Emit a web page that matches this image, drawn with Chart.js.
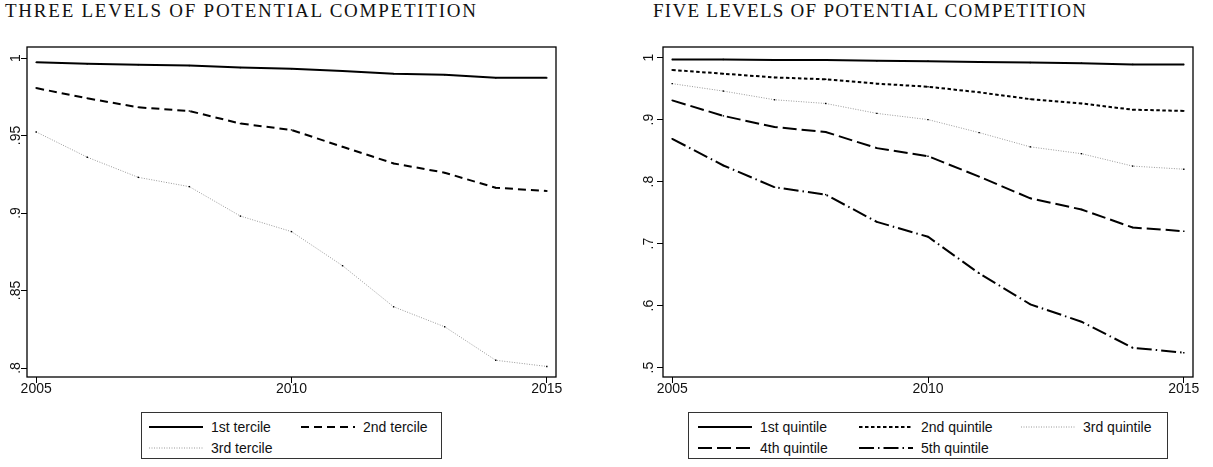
<!DOCTYPE html>
<html>
<head>
<meta charset="utf-8">
<script src="https://cdn.jsdelivr.net/npm/chart.js@4.4.1/dist/chart.umd.min.js"></script>
<style>
  body { margin: 0; background: #fff; }
  #page { position: relative; width: 1213px; height: 467px; background: #fff; overflow: hidden; }
  .title { position: absolute; top: 0px; font-family: "Liberation Serif", serif; font-size: 19px; white-space: nowrap; color: #111; }
  canvas { position: absolute; top: 0; }
  .legend { position: absolute; top: 412px; height: 47px; border: 1px solid #333; box-sizing: border-box;
            font-family: "Liberation Sans", Arial, sans-serif; font-size: 14px; color: #111; }
  .item { position: absolute; display: flex; align-items: center; height: 20px; white-space: nowrap; }
  .item svg { margin-right: 8px; }
</style>
</head>
<body>
<div id="page">
  <div class="title" id="titleLeft">THREE LEVELS OF POTENTIAL COMPETITION</div>
  <div class="title" id="titleRight">FIVE LEVELS OF POTENTIAL COMPETITION</div>
  <canvas id="leftChart" width="600" height="400" style="left:0"></canvas>
  <canvas id="rightChart" width="613" height="400" style="left:600px"></canvas>
  <div class="legend" id="legendLeft" style="left:141px; width:301px"></div>
  <div class="legend" id="legendRight" style="left:688px; width:480px"></div>
</div>
<script>
// data
const years = [2005, 2006, 2007, 2008, 2009, 2010, 2011, 2012, 2013, 2014, 2015];
const xTicks = [2005, 2010, 2015];
const xTickLabels = ['2005', '2010', '2015'];

const tercileNames = ['1st tercile', '2nd tercile', '3rd tercile'];
const tercile1 = [0.9972, 0.9963, 0.9957, 0.9951, 0.9938, 0.9931, 0.9916, 0.9899, 0.9892, 0.9873, 0.9872];
const tercile2 = [0.9806, 0.9740, 0.9682, 0.9658, 0.9577, 0.9536, 0.9427, 0.9320, 0.9260, 0.9163, 0.9142];
const tercile3 = [0.9523, 0.9360, 0.9230, 0.9170, 0.8980, 0.8880, 0.8660, 0.8395, 0.8266, 0.8050, 0.8010];
const tercileTicks = [0.8, 0.85, 0.9, 0.95, 1];
const tercileTickLabels = ['.8', '.85', '.9', '.95', '1'];

const quintileNames = ['1st quintile', '2nd quintile', '3rd quintile', '4th quintile', '5th quintile'];
const quintile1 = [0.997, 0.997, 0.996, 0.996, 0.995, 0.994, 0.993, 0.992, 0.991, 0.989, 0.989];
const quintile2 = [0.980, 0.974, 0.968, 0.965, 0.958, 0.953, 0.944, 0.933, 0.926, 0.916, 0.914];
const quintile3 = [0.958, 0.946, 0.932, 0.926, 0.910, 0.900, 0.879, 0.856, 0.845, 0.825, 0.820];
const quintile4 = [0.931, 0.906, 0.888, 0.880, 0.854, 0.841, 0.808, 0.773, 0.755, 0.726, 0.720];
const quintile5 = [0.869, 0.826, 0.791, 0.779, 0.735, 0.711, 0.652, 0.602, 0.574, 0.532, 0.524];
const quintileTicks = [0.5, 0.6, 0.7, 0.8, 0.9, 1];
const quintileTickLabels = ['.5', '.6', '.7', '.8', '.9', '1'];

// line looks (Stata-like patterns)
const solid = { color: '#000', width: 2, dash: [] };
const tercileStyles = [solid, { color: '#000', width: 2, dash: [8, 5] }, { color: '#999', width: 1, dash: [1, 1.5] }];
const quintileStyles = [
    solid,
    { color: '#000', width: 2, dash: [3.5, 2.5] },
    { color: '#999', width: 1, dash: [1, 1.5] },
    { color: '#000', width: 2, dash: [14, 5] },
    { color: '#000', width: 2, dash: [15, 4, 1.5, 4] },
];

const frame = {
    id: 'frame',
    afterDatasetsDraw(chart) {
        const { ctx, chartArea: a } = chart;
        ctx.save();
        ctx.strokeStyle = '#000';
        ctx.lineWidth = 1.3;
        ctx.strokeRect(a.left, a.top, a.right - a.left, a.bottom - a.top);
        ctx.restore();
    },
};

function makeChart(canvasId, names, series, styles, yTicks, yLabels, yMin, yMax, axisWidth, padRight, labelPad) {
    const font = { family: '"Liberation Sans", Arial, sans-serif', size: 14 };
    return new Chart(document.getElementById(canvasId), {
        type: 'line',
        data: {
            datasets: series.map((values, i) => ({
                label: names[i],
                data: values.map((v, j) => ({ x: years[j], y: v })),
                borderColor: styles[i].color,
                borderWidth: styles[i].width,
                borderDash: styles[i].dash,
                pointRadius: 1,
                pointStyle: 'rect',
                pointBorderWidth: 0,
                pointBackgroundColor: '#000',
                tension: 0,
                fill: false,
            })),
        },
        options: {
            responsive: false,
            animation: false,
            events: [],
            layout: { padding: { top: 47, right: padRight, bottom: 0, left: 0 } },
            plugins: { legend: { display: false }, tooltip: { enabled: false } },
            scales: {
                x: {
                    type: 'linear',
                    min: 2004.82,
                    max: 2015.18,
                    afterBuildTicks: scale => { scale.ticks = xTicks.map(v => ({ value: v })); },
                    afterFit: scale => { scale.height = 23; },
                    border: { display: false },
                    grid: { drawOnChartArea: false, tickLength: 6, color: '#000', lineWidth: 1 },
                    ticks: {
                        font,
                        color: '#111',
                        padding: -2,
                        maxRotation: 0,
                        autoSkip: false,
                        callback: v => xTickLabels[xTicks.indexOf(v)],
                    },
                },
                y: {
                    min: yMin,
                    max: yMax,
                    afterBuildTicks: scale => { scale.ticks = yTicks.map(v => ({ value: v })); },
                    afterFit: scale => { scale.width = axisWidth; },
                    border: { display: false },
                    grid: { drawOnChartArea: false, tickLength: 6, color: '#000', lineWidth: 1 },
                    ticks: {
                        font,
                        color: '#111',
                        minRotation: 90,
                        maxRotation: 90,
                        crossAlign: 'center',
                        padding: labelPad,
                        autoSkip: false,
                        callback: v => yLabels[yTicks.findIndex(t => Math.abs(t - v) < 1e-9)],
                    },
                },
            },
        },
        plugins: [frame],
    });
}

function buildLegend(el, chart, colX) {
    chart.data.datasets.forEach((ds, i) => {
        const item = document.createElement('div');
        item.className = 'item';
        item.style.left = colX[i % colX.length] + 'px';
        item.style.top = (4 + Math.floor(i / colX.length) * 21) + 'px';
        item.innerHTML =
            `<svg width="54" height="10"><line x1="0" y1="5" x2="54" y2="5" stroke="${ds.borderColor}" ` +
            `stroke-width="${ds.borderWidth}" stroke-dasharray="${ds.borderDash.join(' ')}"/></svg>` +
            `<span>${ds.label}</span>`;
        el.appendChild(item);
    });
}

function fitTitle(id, left, width) {
    const el = document.getElementById(id);
    el.style.left = left + 'px';
    const natural = el.getBoundingClientRect().width;
    const gaps = el.textContent.length - 1;
    el.style.letterSpacing = ((width - natural) / gaps) + 'px';
}

const leftChart = makeChart('leftChart', tercileNames, [tercile1, tercile2, tercile3], tercileStyles,
    tercileTicks, tercileTickLabels, 0.7942, 1.0071, 27, 44, -5);
const rightChart = makeChart('rightChart', quintileNames, [quintile1, quintile2, quintile3, quintile4, quintile5],
    quintileStyles, quintileTicks, quintileTickLabels, 0.4848, 1.0171, 63, 20, 2);

buildLegend(document.getElementById('legendLeft'), leftChart, [7, 159]);
buildLegend(document.getElementById('legendRight'), rightChart, [9, 170, 332]);

fitTitle('titleLeft', 5, 471);
fitTitle('titleRight', 653, 433);
</script>
</body>
</html>
